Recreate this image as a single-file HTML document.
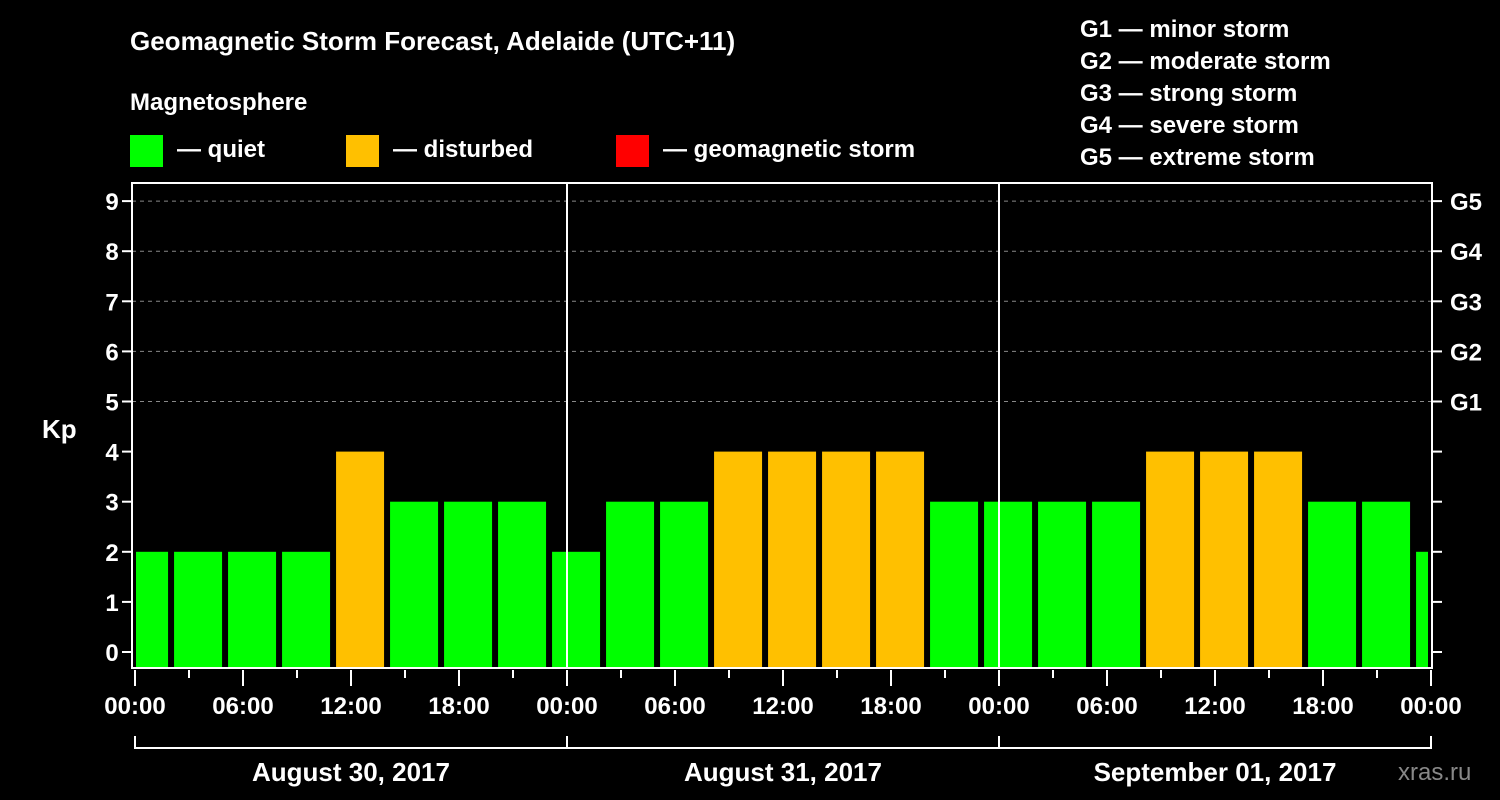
<!DOCTYPE html>
<html><head><meta charset="utf-8"><style>
body{margin:0;background:#000;}
svg{display:block;font-family:"Liberation Sans",Arial,sans-serif;font-weight:bold;}
</style></head><body>
<svg id="chart" width="1500" height="800" viewBox="0 0 1500 800">
<rect width="1500" height="800" fill="#000"/>
<text x="130" y="50" fill="#fff" font-size="26">Geomagnetic Storm Forecast, Adelaide (UTC+11)</text>
<text x="130" y="110" fill="#fff" font-size="24">Magnetosphere</text>
<g><rect x="130" y="135" width="33" height="32" fill="#00ff00"/><text x="177" y="157" fill="#fff" font-size="24">— quiet</text></g>
<g><rect x="346" y="135" width="33" height="32" fill="#ffc000"/><text x="393" y="157" fill="#fff" font-size="24">— disturbed</text></g>
<g><rect x="616" y="135" width="33" height="32" fill="#ff0000"/><text x="663" y="157" fill="#fff" font-size="24">— geomagnetic storm</text></g>
<g fill="#fff" font-size="24">
<text x="1080" y="37">G1 — minor storm</text>
<text x="1080" y="69">G2 — moderate storm</text>
<text x="1080" y="101">G3 — strong storm</text>
<text x="1080" y="133">G4 — severe storm</text>
<text x="1080" y="165">G5 — extreme storm</text>
</g>
<text x="42" y="438" fill="#fff" font-size="26">Kp</text>
<text x="1398" y="780" fill="#888" font-size="24" font-weight="normal">xras.ru</text>
<g id="grid"></g><g id="bars"></g><g id="axes"></g>
</svg>
<script>
const values=[2,2,2,2,4,3,3,3,2,3,3,4,4,4,4,3,3,3,3,4,4,4,3,3,2];
const yTicks=[0,1,2,3,4,5,6,7,8,9];
const gLabels=["","","","","","G1","G2","G3","G4","G5"];
const xTickLabels=["00:00","06:00","12:00","18:00","00:00","06:00","12:00","18:00","00:00","06:00","12:00","18:00","00:00"];
const dayLabels=["August 30, 2017","August 31, 2017","September 01, 2017"];
const NS="http://www.w3.org/2000/svg";
const L=132,R=1432,T=183,B=668;
const xH=h=>135+18*h;
const yV=v=>652-50.1*v;
function mk(tag,attrs,parent,txt){const e=document.createElementNS(NS,tag);for(const k in attrs)e.setAttribute(k,attrs[k]);if(txt!==undefined)e.textContent=txt;parent.appendChild(e);return e;}
const grid=document.getElementById('grid'),bars=document.getElementById('bars'),axes=document.getElementById('axes');
yTicks.forEach(v=>{
  if(v>=5){const g=mk('line',{x1:L,x2:R,y1:yV(v),y2:yV(v),stroke:'#888','stroke-dasharray':'4,4','stroke-width':1},grid);
  
  }
  const t=mk('text',{x:112,y:yV(v)+9,fill:'#fff','font-size':24,'text-anchor':'middle'},axes,String(v));
  
  
  mk('line',{x1:122,x2:L,y1:yV(v),y2:yV(v),stroke:'#fff','stroke-width':2},axes);
  mk('line',{x1:R,x2:R+10,y1:yV(v),y2:yV(v),stroke:'#fff','stroke-width':2},axes);
  if(gLabels[v]){const g=mk('text',{x:1450,y:yV(v)+9,fill:'#fff','font-size':24},axes,gLabels[v]);
  
  }
});
values.forEach((v,k)=>{
  let x0=xH(3*k-0.83),x1=x0+48;
  x0=Math.max(x0,136);x1=Math.min(x1,1428);
  const c=v>=5?'#ff0000':(v>=4?'#ffc000':'#00ff00');
  const r=mk('rect',{x:x0,y:yV(v),width:x1-x0,height:B-yV(v),fill:c},bars);
  
  
});
const fr=mk('rect',{x:L,y:T,width:R-L,height:B-T,fill:'none',stroke:'#fff','stroke-width':2},axes);


[1,2].forEach(d=>{const l=mk('line',{x1:xH(24*d),x2:xH(24*d),y1:T,y2:B,stroke:'#fff','stroke-width':2},axes);

});
for(let i=0;i<=24;i++){const x=xH(3*i);mk('line',{x1:x,x2:x,y1:B+2,y2:B+(i%2?10:18),stroke:'#fff','stroke-width':2},axes);}
xTickLabels.forEach((s,i)=>{const t=mk('text',{x:xH(6*i),y:714,fill:'#fff','font-size':24,'text-anchor':'middle'},axes,s);

});
mk('line',{x1:xH(0),x2:xH(72),y1:748,y2:748,stroke:'#fff','stroke-width':2},axes);
[0,1,2,3].forEach(d=>mk('line',{x1:xH(24*d),x2:xH(24*d),y1:736,y2:749,stroke:'#fff','stroke-width':2},axes));
dayLabels.forEach((s,d)=>{const t=mk('text',{x:xH(24*d+12),y:781,fill:'#fff','font-size':26,'text-anchor':'middle'},axes,s);

});
</script>
</body></html>
